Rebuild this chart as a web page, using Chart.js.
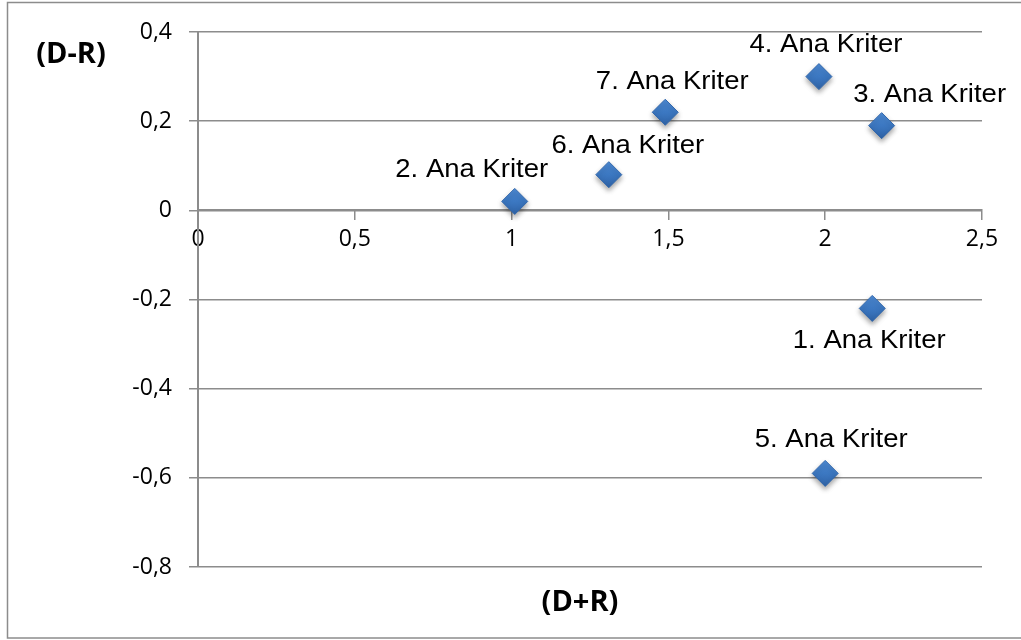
<!DOCTYPE html>
<html>
<head>
<meta charset="utf-8">
<script src="https://cdn.jsdelivr.net/npm/chart.js@4/dist/chart.umd.min.js"></script>
<style>
  html, body { margin: 0; padding: 0; background: #ffffff; }
  #wrap { width: 1021px; height: 640px; position: relative; }
</style>
</head>
<body>
<div id="wrap"><canvas id="c" width="1021" height="640"></canvas></div>
<script>
// Criteria: (D+R) prominence vs (D-R) relation
const criteria = ['1. Ana Kriter', '2. Ana Kriter', '3. Ana Kriter', '4. Ana Kriter', '5. Ana Kriter', '6. Ana Kriter', '7. Ana Kriter'];
const dPlusR  = [2.15, 1.01, 2.18, 1.98, 2.00, 1.31, 1.49];
const dMinusR = [-0.22, 0.02, 0.19, 0.30, -0.59, 0.08, 0.22];
const xTicks = [0, 0.5, 1, 1.5, 2, 2.5];
const yTicks = [-0.8, -0.6, -0.4, -0.2, 0, 0.2, 0.4];
const xTitle = '(D+R)';
const yTitle = '(D-R)';

const fmt = v => {
  const r = Math.round(v * 10) / 10;
  return String(r).replace('.', ',');
};

// label placement relative to each marker (pixels)
const labelShift = {
  '1. Ana Kriter': [-3, 33],
  '2. Ana Kriter': [-43, -31],
  '3. Ana Kriter': [48, -31],
  '4. Ana Kriter': [7, -31],
  '5. Ana Kriter': [6, -33],
  '6. Ana Kriter': [19, -29],
  '7. Ana Kriter': [7, -30]
};

// diamond fill: lighter at the top, darker toward the bottom
function markerFill(ctx) {
  const chart = ctx.chart;
  if (!chart.scales || !chart.scales.x || !ctx.raw) return '#3c78c2';
  const px = chart.scales.x.getPixelForValue(ctx.raw.x);
  const py = chart.scales.y.getPixelForValue(ctx.raw.y);
  if (!isFinite(px) || !isFinite(py)) return '#3c78c2';
  const g = chart.ctx.createLinearGradient(px, py - 13, px, py + 13);
  g.addColorStop(0, '#4d8ad4');
  g.addColorStop(0.5, '#3c78c2');
  g.addColorStop(1, '#2f63a6');
  return g;
}

const decor = {
  id: 'decor',
  beforeDraw(chart) {
    const ctx = chart.ctx;
    ctx.save();
    ctx.fillStyle = '#ffffff';
    ctx.fillRect(0, 0, chart.width, chart.height);
    ctx.strokeStyle = '#8c8c8c';
    ctx.lineWidth = 1.5;
    ctx.strokeRect(7.5, 2.5, chart.width + 10, 635.5);
    ctx.restore();
  },
  beforeDatasetsDraw(chart) {
    const ctx = chart.ctx;
    ctx.save();
    ctx.shadowColor = 'rgba(0,0,0,0.35)';
    ctx.shadowBlur = 5;
    ctx.shadowOffsetX = 0;
    ctx.shadowOffsetY = 3;
  },
  afterDatasetsDraw(chart) {
    const ctx = chart.ctx;
    ctx.restore();
    // point labels
    const meta = chart.getDatasetMeta(0);
    ctx.save();
    ctx.fillStyle = '#000000';
    ctx.font = '25px "Liberation Sans", Arial, sans-serif';
    ctx.textAlign = 'center';
    ctx.textBaseline = 'middle';
    meta.data.forEach((pt, i) => {
      const name = criteria[i];
      const s = labelShift[name] || [0, -30];
      ctx.save();
      ctx.translate(pt.x + s[0], pt.y + s[1]);
      ctx.scale(1.1, 1);
      ctx.fillText(name, 0, 0);
      ctx.restore();
    });
    // axis titles
    ctx.font = 'bold 29px "Open Sans", sans-serif';
    ctx.textAlign = 'center';
    ctx.fillText(yTitle, 71, 55);
    ctx.fillText(xTitle, 580, 603);
    ctx.restore();
  }
};

new Chart(document.getElementById('c'), {
  type: 'scatter',
  data: {
    labels: criteria,
    datasets: [{
      data: dPlusR.map((x, i) => ({ x, y: dMinusR[i] })),
      pointStyle: 'rectRot',
      pointRadius: 13,
      pointHoverRadius: 13,
      backgroundColor: markerFill,
      borderColor: '#3268ad',
      borderWidth: 1
    }]
  },
  options: {
    responsive: false,
    animation: false,
    events: [],
    layout: { padding: { left: 0, top: 32, right: 39, bottom: 73 } },
    plugins: { legend: { display: false }, tooltip: { enabled: false }, title: { display: false } },
    scales: {
      x: {
        type: 'linear',
        min: 0, max: 2.5,
        position: { y: 0 },
        afterBuildTicks: s => { s.ticks = xTicks.map(v => ({ value: v })); },
        grid: { display: true, drawOnChartArea: false, drawTicks: true, tickLength: 9, color: '#8c8c8c', lineWidth: 1.5 },
        border: { display: true, color: '#8c8c8c', width: 2 },
        ticks: {
          callback: v => fmt(v),
          color: '#000000',
          font: { family: '"Open Sans", sans-serif', size: 23 },
          padding: 6,
          maxRotation: 0
        },
        title: { display: false }
      },
      y: {
        type: 'linear',
        min: -0.8, max: 0.4,
        position: 'left',
        afterBuildTicks: s => { s.ticks = yTicks.map(v => ({ value: v })); },
        afterFit: s => { s.width = 198; },
        grid: { display: true, drawOnChartArea: true, drawTicks: true, tickLength: 9, color: '#8c8c8c', lineWidth: 1.5 },
        border: { display: true, color: '#8c8c8c', width: 2 },
        ticks: {
          callback: v => fmt(v),
          color: '#000000',
          font: { family: '"Open Sans", sans-serif', size: 23 },
          padding: 17
        },
        title: { display: false }
      }
    }
  },
  plugins: [decor]
});
</script>
</body>
</html>
